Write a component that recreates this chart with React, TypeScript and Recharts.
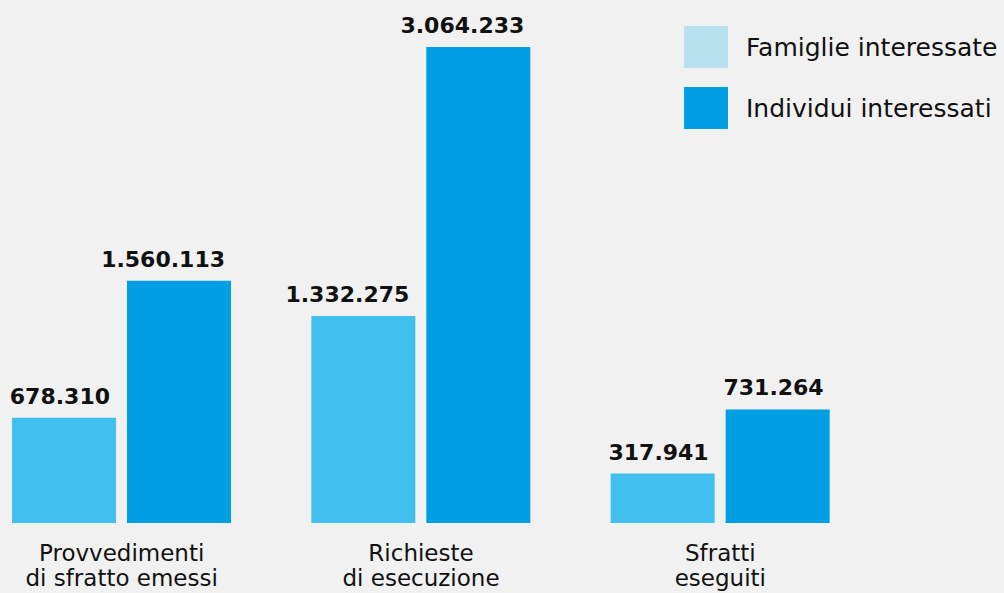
import React from "react";
import { BarChart, Bar, XAxis, YAxis, Legend, LabelList } from "recharts";

const categories = ["Provvedimenti\ndi sfratto emessi", "Richieste\ndi esecuzione", "Sfratti\neseguiti"];
const famiglie = [678310, 1332275, 317941];
const individui = [1560113, 3064233, 731264];
const seriesNames = ["Famiglie interessate", "Individui interessati"];

const data = categories.map((c, i) => ({ name: c, famiglie: famiglie[i], individui: individui[i] }));

const FONT = "'DejaVu Sans', sans-serif";
const fmt = (v: number) => v.toLocaleString("de-DE");

const CatTick = (props: any) => {
  const { x, y, payload } = props;
  const lines = String(payload.value).split("\n");
  return (
    <g transform={`translate(${x},${y})`}>
      {lines.map((l, i) => (
        <text key={i} x={0} y={30 + i * 25} textAnchor="middle" fontFamily={FONT} fontSize={23} fill="#111">
          {l}
        </text>
      ))}
    </g>
  );
};

const ValueLabel = (props: any) => {
  const { x, y, width, value } = props;
  return (
    <text x={x + width - 6} y={y - 14} textAnchor="end" fontFamily={FONT} fontWeight={700} fontSize={22} fill="#111">
      {fmt(value)}
    </text>
  );
};

const LegendContent = () => {
  const cols = ["#b8e1f0", "#009fe3"];
  return (
    <div style={{ fontFamily: FONT }}>
      {seriesNames.map((n, i) => (
        <div key={n} style={{ display: "flex", alignItems: "center", height: 42, marginBottom: i === 0 ? 19 : 0 }}>
          <div style={{ width: 44, height: 42, background: cols[i] }} />
          <span style={{ marginLeft: 18, fontSize: 25, color: "#111", whiteSpace: "nowrap" }}>{n}</span>
        </div>
      ))}
    </div>
  );
};

export default function App() {
  return (
    <div style={{ position: "absolute", left: 0, top: 0, width: 1004, height: 593, overflow: "hidden", background: "#f1f1f1" }}>
      <div style={{ position: "absolute", left: -28, top: 0 }}>
        <BarChart width={1032} height={593} data={data} margin={{ top: 47, right: 134, left: 0, bottom: 0 }} barSize={104} barGap={11}>
          <XAxis dataKey="name" axisLine={false} tickLine={false} height={70} interval={0} tick={<CatTick />} />
          <YAxis hide domain={[0, "dataMax"]} />
          <Legend
            layout="vertical"
            align="center"
            verticalAlign="middle"
            wrapperStyle={{ top: 26, left: 712, width: "auto" }}
            content={<LegendContent />}
          />
          <Bar dataKey="famiglie" name={seriesNames[0]} fill="#41bfef" isAnimationActive={false}>
            <LabelList dataKey="famiglie" content={<ValueLabel />} />
          </Bar>
          <Bar dataKey="individui" name={seriesNames[1]} fill="#009fe3" isAnimationActive={false}>
            <LabelList dataKey="individui" content={<ValueLabel />} />
          </Bar>
        </BarChart>
      </div>
    </div>
  );
}
